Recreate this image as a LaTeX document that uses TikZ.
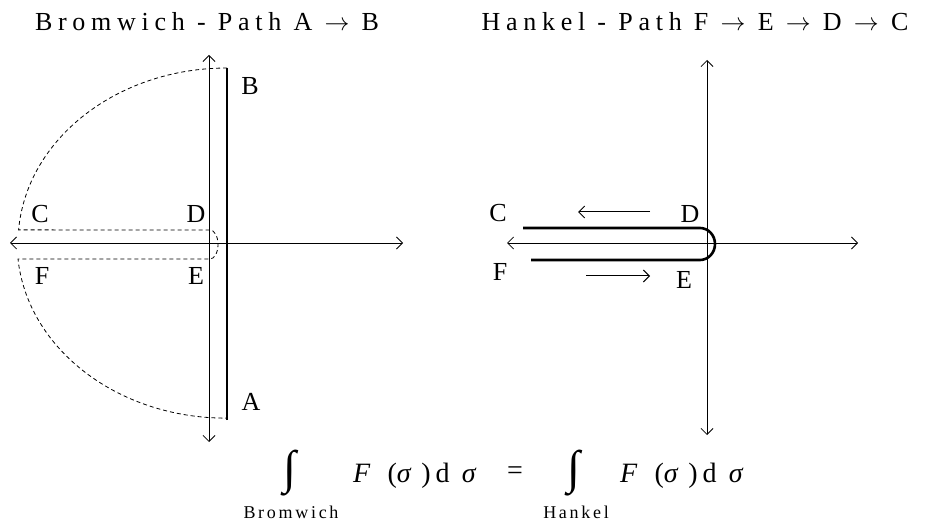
\documentclass[tikz,border=0pt]{standalone}
\usepackage{fontspec}
\setmainfont{Liberation Serif}
\usepackage{graphicx}
\usepackage{tikz}
\usetikzlibrary{arrows.meta}
\tikzset{
	axisline/.style={<->, line width=0.8pt},
	contour/.style={line width=2.6pt},
	detour/.style={line width=0.8pt, dash pattern=on 4pt off 3pt},
	dirarr/.style={->, line width=1pt},
	ptlabel/.style={font=\fontsize{26}{30}\selectfont, inner sep=0pt},
	heading/.style={font=\fontsize{26}{30}\selectfont\addfontfeature{LetterSpace=22}, inner sep=0pt},
	eqtext/.style={font=\fontsize{28}{32}\selectfont\addfontfeature{LetterSpace=18}, inner sep=0pt},
	undertext/.style={font=\fontsize{18}{22}\selectfont\addfontfeature{LetterSpace=15}, inner sep=0pt},
	intsign/.style={inner sep=0pt},
}

\begin{document}
\begin{tikzpicture}[
				x=1pt, y=1pt,
				>={Straight Barb[length=6pt, width=12pt]}
			]
				\useasboundingbox (0,0) rectangle (925,522);
				% headings
				\node[heading] (headB) at (207,500) {Bromwich - Path A $\rightarrow$ B};
				\node[heading] (headH) at (695,500) {Hankel - Path F $\rightarrow$ E $\rightarrow$ D $\rightarrow$ C};
				% Bromwich plane
				\coordinate (reW) at (10,279);
				\coordinate (reE) at (403,279);
				\coordinate (imS) at (209,80);
				\coordinate (imN) at (209,467);
				\draw[axisline] (reW) -- (reE);
				\draw[axisline] (imS) -- (imN);
				\coordinate (ptA) at (227,102);
				\coordinate (ptB) at (227,454);
				\draw[contour] (ptA) -- (ptB);
				\draw[detour] (ptB) arc[start angle=90, end angle=175.7, x radius=209, y radius=175]
					-- (210,292) arc[start angle=90, end angle=-90, x radius=8, y radius=14.5]
					-- (18,263) arc[start angle=185.2, end angle=270, x radius=209, y radius=175];
				\node[ptlabel] (labB) at (250,436) {B};
				\node[ptlabel] (labA) at (251,120) {A};
				\node[ptlabel] (labC) at (40,308) {C};
				\node[ptlabel] (labD) at (196,308) {D};
				\node[ptlabel] (labF) at (42,246) {F};
				\node[ptlabel] (labE) at (196,246) {E};
				% Hankel plane
				\coordinate (hreW) at (507,279);
				\coordinate (hreE) at (858,279);
				\coordinate (himS) at (707,87);
				\coordinate (himN) at (707,462);
				\draw[axisline] (hreW) -- (hreE);
				\draw[axisline] (himS) -- (himN);
				\coordinate (hC) at (523,294);
				\coordinate (hD) at (700,294);
				\coordinate (hF) at (531,262);
				\draw[contour] (hC) -- (hD) arc[start angle=90, end angle=-90, x radius=15, y radius=16] -- (hF);
				\coordinate (topR) at (650,310);
				\coordinate (topL) at (578,310);
				\coordinate (botL) at (586,246);
				\coordinate (botR) at (650,246);
				\draw[dirarr] (topR) -- (topL);
				\draw[dirarr] (botL) -- (botR);
				\node[ptlabel] (hlabC) at (498,309) {C};
				\node[ptlabel] (hlabD) at (690,308) {D};
				\node[ptlabel] (hlabF) at (500,250) {F};
				\node[ptlabel] (hlabE) at (684,242) {E};
				% integral identity
				\node[intsign] (intB) at (290,49) {\resizebox*{!}{46pt}{∫}};
				\node[undertext] (subB) at (291,10) {Bromwich};
				\node[eqtext, anchor=base west] (lhs) at (353,40) {\textit{F} (\textit{σ}\,)d \textit{σ}};
				\node[eqtext] (eqsign) at (515,49) {=};
				\node[intsign] (intH) at (574,49) {\resizebox*{!}{46pt}{∫}};
				\node[undertext] (subH) at (576,10) {Hankel};
				\node[eqtext, anchor=base west] (rhs) at (620,40) {\textit{F} (\textit{σ}\,)d \textit{σ}};
			\end{tikzpicture}
\end{document}
